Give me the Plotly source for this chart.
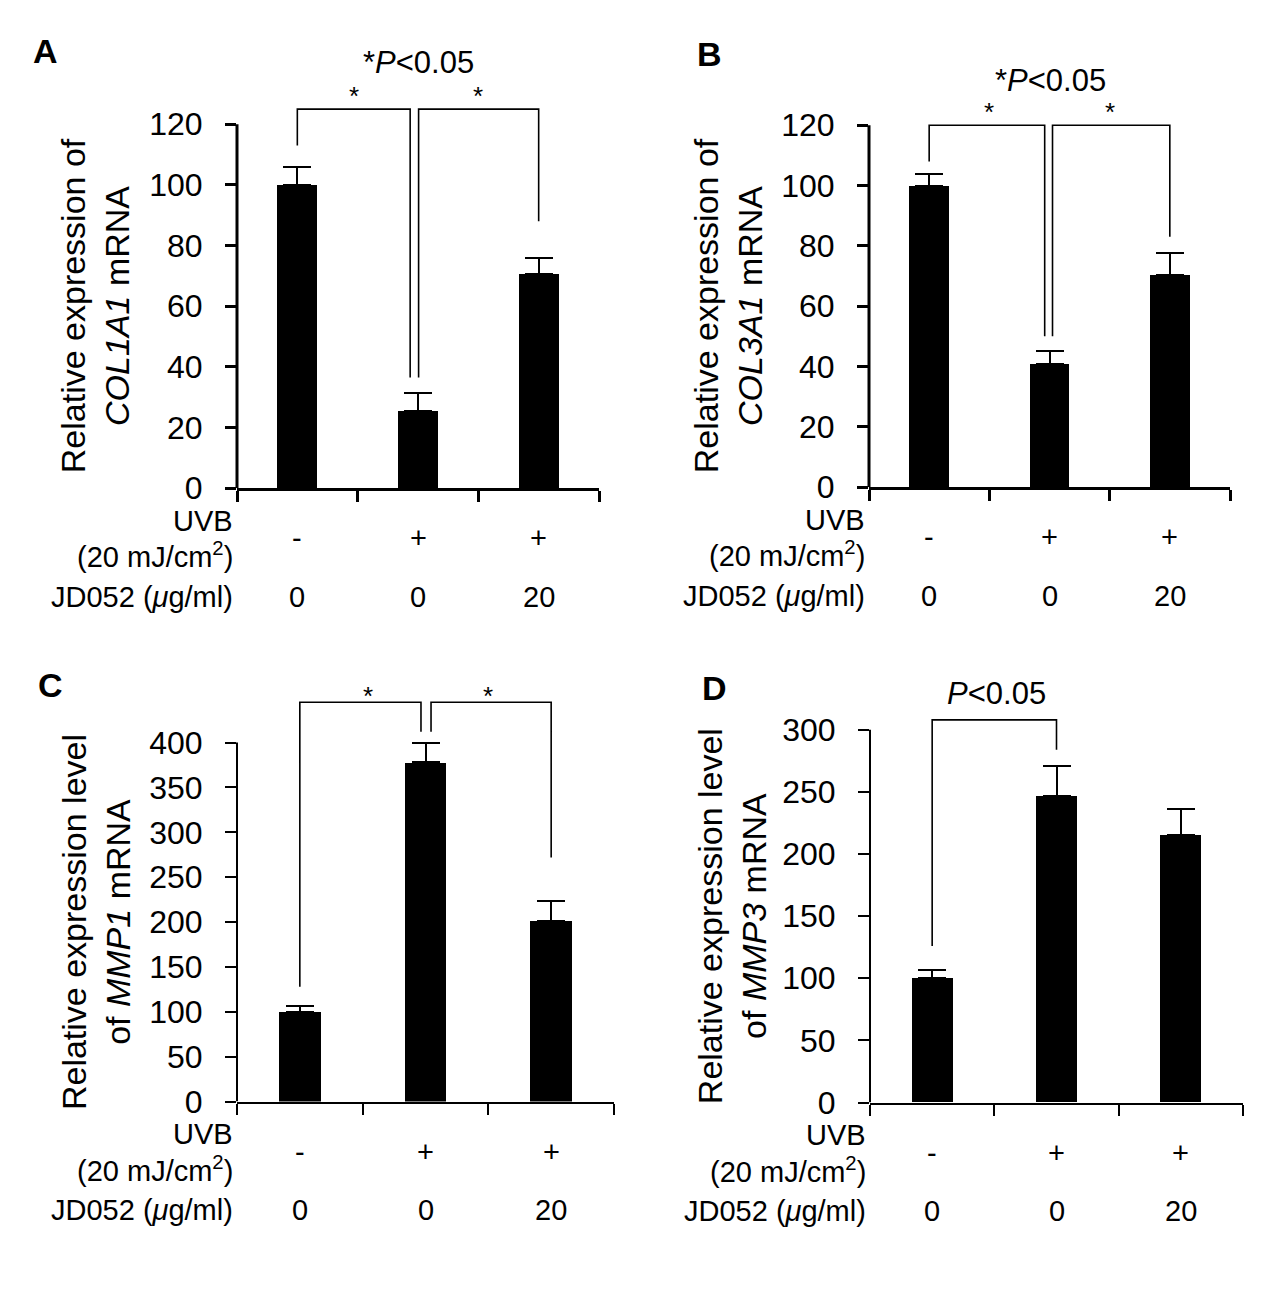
import plotly.graph_objects as go

W, H = 1263, 1302
FONT = "Liberation Sans, Arial, Helvetica, sans-serif"

# ---------------- data ----------------
groups = [0, 1, 2]
uvb_labels = ["-", "+", "+"]
jd_labels = ["0", "0", "20"]

a_values = [100, 25.5, 70.5]
a_errors = [6, 6, 5.5]
a_ticks = [0, 20, 40, 60, 80, 100, 120]
a_title = "Relative expression of<br><i>COL1A1</i> mRNA"
# bracket: (x_start, x_end, height, left leg bottom, right leg bottom)
a_brackets = [(0, 0.935, 125, 113, 36.5), (1.005, 2, 125, 36.5, 88)]
a_stars = [(0.47, 131), (1.5, 131)]
a_ptext = ("*<i>P</i>&lt;0.05", 1.0, 140.5)

b_values = [100, 41, 70.5]
b_errors = [4, 4, 7]
b_ticks = [0, 20, 40, 60, 80, 100, 120]
b_title = "Relative expression of<br><i>COL3A1</i> mRNA"
b_brackets = [(0, 0.96, 120, 108, 50), (1.025, 2, 120, 50, 83)]
b_stars = [(0.5, 126), (1.5, 126)]
b_ptext = ("*<i>P</i>&lt;0.05", 1.01, 135)

c_values = [100, 378, 201]
c_errors = [6, 21, 23]
c_ticks = [0, 50, 100, 150, 200, 250, 300, 350, 400]
c_title = "Relative expression level<br>of <i>MMP1</i> mRNA"
c_brackets = [(0, 0.964, 445, 128, 412), (1.044, 2, 445, 412, 272)]
c_stars = [(0.54, 458), (1.5, 458)]
c_ptext = ("*<i>P</i>&lt;0.05", 1.08, 489)

d_values = [100, 247, 215]
d_errors = [6.3, 24, 21.5]
d_ticks = [0, 50, 100, 150, 200, 250, 300]
d_title = "Relative expression level<br>of <i>MMP3</i> mRNA"
d_brackets = [(0, 1, 308, 126, 284)]
d_stars = []
d_ptext = ("<i>P</i>&lt;0.05", 0.52, 329)

# ---------------- layout geometry (pixels) ----------------
panels = [
    dict(letter="A", values=a_values, errors=a_errors, ticks=a_ticks, title=a_title,
         brackets=a_brackets, stars=a_stars, ptext=a_ptext,
         x0=237, x1=599, zero_px=495, top_px=126, top_val=120, rng=150, lw=3,
         title_x=95, letter_pos=(45, 52)),
    dict(letter="B", values=b_values, errors=b_errors, ticks=b_ticks, title=b_title,
         brackets=b_brackets, stars=b_stars, ptext=b_ptext,
         x0=869, x1=1230, zero_px=494, top_px=127, top_val=120, rng=150, lw=3,
         title_x=728, letter_pos=(709, 55)),
    dict(letter="C", values=c_values, errors=c_errors, ticks=c_ticks, title=c_title,
         brackets=c_brackets, stars=c_stars, ptext=c_ptext,
         x0=237, x1=614, zero_px=1117, top_px=753, top_val=400, rng=480, lw=2,
         title_x=96, letter_pos=(50, 695)),
    dict(letter="D", values=d_values, errors=d_errors, ticks=d_ticks, title=d_title,
         brackets=d_brackets, stars=d_stars, ptext=d_ptext,
         x0=870, x1=1243, zero_px=1118, top_px=740, top_val=300, rng=340, lw=2,
         title_x=732, letter_pos=(714, 698)),
]


def px_x(px):
    return px / W


def px_y(py):
    return 1 - py / H


fig = go.Figure()
shapes = []
annotations = []

for i, p in enumerate(panels):
    n = "" if i == 0 else str(i + 1)
    xa, ya = "x" + n, "y" + n
    scale = (p["zero_px"] - p["top_px"]) / p["top_val"]
    dom_top_px = p["zero_px"] - p["rng"] * scale
    lw = p["lw"]

    fig.add_trace(go.Bar(
        x=groups, y=p["values"], width=0.33,
        marker=dict(color="black", line=dict(width=0)),
        error_y=dict(type="data", array=p["errors"], arrayminus=[0, 0, 0],
                     symmetric=False, color="black", thickness=2, width=14),
        xaxis=xa, yaxis=ya, showlegend=False, hoverinfo="skip",
    ))

    fig.layout["xaxis" + n] = dict(
        domain=[px_x(p["x0"]), px_x(p["x1"])], anchor=ya,
        range=[-0.5, 2.5], tickvals=[-0.5, 0.5, 1.5, 2.5],
        ticks="outside", ticklen=11, tickwidth=lw, tickcolor="black",
        showline=True, linecolor="black", linewidth=lw,
        showgrid=False, zeroline=False, showticklabels=False, fixedrange=True,
    )
    fig.layout["yaxis" + n] = dict(
        domain=[px_y(p["zero_px"]), px_y(dom_top_px)], anchor=xa,
        range=[0, p["rng"]], tickvals=p["ticks"],
        ticks="outside", ticklen=11, tickwidth=lw, tickcolor="black",
        showline=False, showgrid=False, zeroline=False, fixedrange=True,
        tickfont=dict(family=FONT, size=32, color="black"),
        ticklabelstandoff=16,
    )

    # visible y-axis line only up to the top tick
    shapes.append(dict(type="line", xref=xa + " domain", yref=ya,
                       x0=0, x1=0, y0=0, y1=p["ticks"][-1],
                       line=dict(color="black", width=lw)))

    # significance brackets
    for (xs, xe, hgt, bl, br) in p["brackets"]:
        path = f"M {xs},{bl} L {xs},{hgt} L {xe},{hgt} L {xe},{br}"
        shapes.append(dict(type="path", xref=xa, yref=ya, path=path,
                           line=dict(color="black", width=1.6)))
    for (sx, sy) in p["stars"]:
        annotations.append(dict(x=sx, y=sy, xref=xa, yref=ya, text="*",
                                showarrow=False, yshift=-5,
                                font=dict(family=FONT, size=26, color="black")))
    ptxt, pxv, pyv = p["ptext"]
    annotations.append(dict(x=pxv, y=pyv, xref=xa, yref=ya, text=ptxt,
                            showarrow=False,
                            font=dict(family=FONT, size=31, color="black")))

    # y-axis title
    mid_px = (p["zero_px"] + p["top_px"]) / 2
    annotations.append(dict(x=px_x(p["title_x"]), y=px_y(mid_px), xref="paper", yref="paper",
                            text=p["title"], textangle=-90, showarrow=False,
                            xanchor="center", yanchor="middle",
                            font=dict(family=FONT, size=34, color="black")))

    # panel letter
    lx, ly = p["letter_pos"]
    annotations.append(dict(x=px_x(lx), y=px_y(ly), xref="paper", yref="paper",
                            text="<b>" + p["letter"] + "</b>", showarrow=False,
                            xanchor="center", yanchor="middle",
                            font=dict(family=FONT, size=34, color="black")))

    # treatment rows under the axis
    z = p["zero_px"]
    rx = px_x(p["x0"] - 2)
    for txt, off in [("UVB", 33), ("(20 mJ/cm<sup>2</sup>)", 68),
                     ("JD052 (<i>μ</i>g/ml)", 110)]:
        annotations.append(dict(x=rx, y=px_y(z + off), xref="paper", yref="paper",
                                text=txt, showarrow=False, xanchor="right",
                                yanchor="middle",
                                font=dict(family=FONT, size=29, color="black")))
    for g, u, j in zip(groups, uvb_labels, jd_labels):
        annotations.append(dict(x=g, y=px_y(z + 51), xref=xa, yref="paper",
                                text=u, showarrow=False, yanchor="middle",
                                font=dict(family=FONT, size=29, color="black")))
        annotations.append(dict(x=g, y=px_y(z + 110), xref=xa, yref="paper",
                                text=j, showarrow=False, yanchor="middle",
                                font=dict(family=FONT, size=29, color="black")))

fig.update_layout(
    width=W, height=H,
    margin=dict(l=0, r=0, t=0, b=0),
    paper_bgcolor="white", plot_bgcolor="white",
    shapes=shapes, annotations=annotations,
    bargap=0, showlegend=False,
    font=dict(family=FONT, color="black"),
)

fig.write_html(
    "out.html",
    config={"displayModeBar": False},
    post_script="document.body.style.margin='0';document.body.style.overflow='hidden';",
)
